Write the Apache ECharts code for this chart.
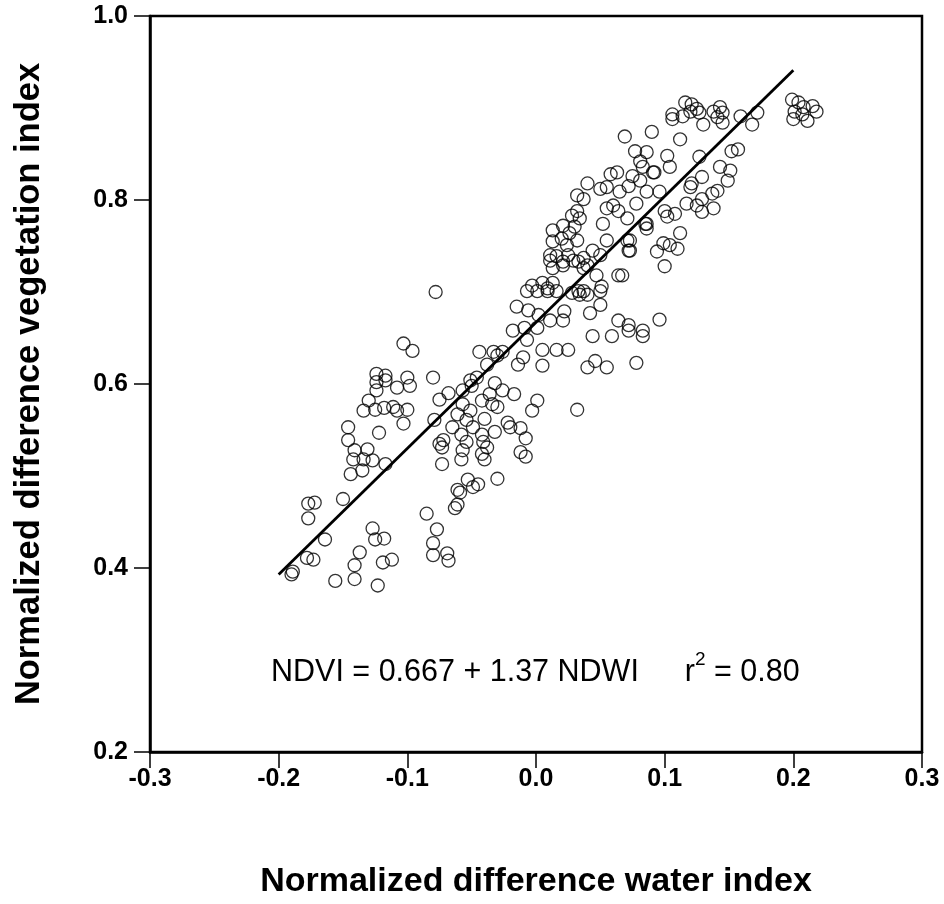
<!DOCTYPE html>
<html>
<head>
<meta charset="utf-8">
<script src="https://cdn.jsdelivr.net/npm/echarts@6/dist/echarts.min.js"></script>
<style>html,body{margin:0;padding:0;background:#fff;overflow:hidden;}#chart{width:944px;height:904px;}</style>
</head>
<body>
<div id="chart"></div>
<script>
// NDWI (x) values of observations
var ndwi = [
-0.103,-0.096,-0.124,-0.117,-0.100,-0.080,-0.124,-0.117,-0.108,-0.098,
-0.124,-0.130,-0.134,-0.125,-0.118,-0.111,-0.100,-0.108,-0.103,-0.075,
-0.079,-0.146,-0.122,-0.146,-0.141,-0.131,-0.142,-0.134,-0.127,-0.117,
-0.144,-0.135,-0.075,-0.073,-0.150,-0.177,-0.172,-0.177,-0.164,-0.085,
-0.077,-0.080,-0.080,-0.069,-0.068,-0.127,-0.125,-0.118,-0.137,-0.141,
-0.112,-0.119,-0.178,-0.173,-0.189,-0.190,-0.156,-0.141,-0.123,-0.063,
-0.061,-0.078,0.011,0.021,0.029,-0.003,0.005,0.009,0.013,0.001,
0.009,0.016,0.028,-0.015,-0.006,0.002,0.022,0.021,0.011,-0.018,
-0.009,0.001,-0.007,-0.044,-0.033,-0.026,-0.030,0.005,0.016,0.025,
-0.014,-0.010,0.005,-0.038,-0.051,-0.046,-0.050,-0.057,-0.068,-0.032,
-0.026,-0.017,-0.036,-0.042,-0.034,-0.057,-0.051,-0.030,0.001,-0.003,
0.032,-0.061,-0.054,-0.040,-0.022,-0.020,-0.012,-0.008,-0.065,-0.058,
-0.049,-0.042,-0.032,-0.072,-0.054,-0.041,-0.038,-0.073,-0.057,-0.012,
-0.008,-0.042,-0.040,-0.058,-0.030,-0.053,-0.045,-0.049,-0.059,-0.061,
0.058,0.063,0.075,0.081,0.091,0.040,0.050,0.032,0.037,0.055,
0.065,0.086,0.078,0.060,0.064,0.055,0.071,0.052,0.086,0.032,
0.028,0.034,0.021,0.013,0.030,0.026,0.020,0.013,0.024,0.032,
0.011,0.016,0.025,0.033,0.013,0.021,0.044,0.055,0.071,0.072,
0.050,0.040,0.037,0.064,0.047,0.037,-0.007,0.037,0.040,0.034,
0.050,0.051,0.042,0.050,0.044,0.059,0.064,0.072,0.072,0.083,
0.083,0.040,0.046,0.055,0.078,0.033,0.116,0.121,0.125,0.120,
0.106,0.106,0.114,0.127,0.138,0.143,0.145,0.141,0.130,0.145,
0.159,0.168,0.172,0.199,0.204,0.208,0.215,0.218,0.201,0.207,
0.200,0.211,0.090,0.069,0.112,0.077,0.086,0.102,0.104,0.081,
0.083,0.092,0.127,0.152,0.157,0.143,0.151,0.149,0.072,0.096,
0.121,0.120,0.129,0.141,0.137,0.129,0.125,0.138,0.129,0.117,
0.108,0.102,0.100,0.085,0.086,0.073,0.073,0.112,0.110,0.104,
0.099,0.094,0.100,0.067,0.096
];
// NDVI (y) values of observations
var ndvi = [
0.644,0.636,0.611,0.609,0.607,0.607,0.602,0.604,0.596,0.598,
0.593,0.582,0.571,0.572,0.574,0.575,0.572,0.571,0.557,0.583,
0.561,0.553,0.547,0.539,0.528,0.529,0.518,0.518,0.517,0.513,
0.502,0.506,0.535,0.513,0.475,0.470,0.471,0.454,0.431,0.459,
0.442,0.427,0.414,0.416,0.408,0.443,0.431,0.432,0.417,0.403,
0.409,0.406,0.411,0.409,0.396,0.393,0.386,0.388,0.381,0.465,
0.485,0.700,0.734,0.733,0.734,0.707,0.710,0.704,0.710,0.701,
0.701,0.701,0.699,0.684,0.680,0.675,0.679,0.669,0.669,0.658,
0.661,0.661,0.648,0.635,0.635,0.635,0.631,0.637,0.637,0.637,
0.621,0.629,0.620,0.621,0.604,0.607,0.598,0.593,0.590,0.601,
0.593,0.589,0.589,0.582,0.578,0.578,0.571,0.575,0.582,0.571,
0.572,0.567,0.561,0.562,0.558,0.553,0.552,0.541,0.553,0.545,
0.553,0.545,0.548,0.539,0.537,0.537,0.531,0.531,0.528,0.526,
0.521,0.524,0.518,0.518,0.497,0.496,0.491,0.488,0.482,0.469,
0.828,0.830,0.826,0.821,0.830,0.818,0.812,0.805,0.801,0.814,
0.809,0.809,0.796,0.794,0.788,0.791,0.780,0.774,0.774,0.788,
0.783,0.780,0.772,0.767,0.771,0.764,0.758,0.755,0.751,0.756,
0.740,0.739,0.740,0.733,0.726,0.729,0.745,0.756,0.756,0.745,
0.740,0.729,0.737,0.718,0.718,0.726,0.701,0.701,0.697,0.697,
0.701,0.706,0.677,0.686,0.652,0.652,0.669,0.664,0.658,0.658,
0.652,0.618,0.625,0.618,0.623,0.701,0.906,0.904,0.899,0.896,
0.893,0.888,0.891,0.895,0.896,0.901,0.895,0.890,0.882,0.884,
0.891,0.882,0.895,0.909,0.906,0.901,0.902,0.896,0.896,0.893,
0.888,0.886,0.874,0.869,0.866,0.853,0.852,0.848,0.836,0.842,
0.836,0.830,0.847,0.853,0.855,0.836,0.832,0.821,0.815,0.809,
0.818,0.814,0.825,0.810,0.807,0.801,0.794,0.791,0.787,0.796,
0.785,0.782,0.788,0.774,0.769,0.756,0.745,0.764,0.747,0.751,
0.753,0.744,0.728,0.718,0.670
];
// Regression line end points
var fitX = [-0.2, 0.2];
var fitY = [0.393, 0.941];
var equationText = 'NDVI = 0.667 + 1.37 NDWI';
var r2Text = '0.80';
var xTicks = [-0.3, -0.2, -0.1, 0.0, 0.1, 0.2, 0.3];
var yTicks = [0.2, 0.4, 0.6, 0.8, 1.0];

var pts = ndwi.map(function (x, i) { return [x, ndvi[i]]; });
var fit = fitX.map(function (x, i) { return [x, fitY[i]]; });

var FONT = '"Liberation Sans", Arial, sans-serif';
var chart = echarts.init(document.getElementById('chart'), null, {renderer: 'canvas', width: 944, height: 904});
chart.setOption({
  animation: false,
  backgroundColor: '#fff',
  grid: {left: 150, top: 16, width: 772, height: 741, show: true, borderColor: '#000', borderWidth: 2.5, containLabel: false},
  xAxis: {
    type: 'value', min: xTicks[0], max: xTicks[xTicks.length - 1], interval: 0.1,
    axisLine: {show: true, onZero: false, lineStyle: {color: '#000', width: 2.5}},
    axisTick: {show: true, inside: false, length: 16, lineStyle: {color: '#000', width: 1.5}},
    splitLine: {show: false},
    axisLabel: {margin: 15, color: '#000', fontFamily: FONT, fontWeight: 'bold', fontSize: 25,
      formatter: function (v) { return (Math.round(v * 10) / 10).toFixed(1); }},
    name: 'Normalized difference water index', nameLocation: 'middle', nameGap: 113,
    nameTextStyle: {color: '#000', fontFamily: FONT, fontWeight: 'bold', fontSize: 34}
  },
  yAxis: {
    type: 'value', min: yTicks[0], max: yTicks[yTicks.length - 1], interval: 0.2,
    axisLine: {show: true, onZero: false, lineStyle: {color: '#000', width: 2.5}},
    axisTick: {show: true, inside: false, length: 16, lineStyle: {color: '#000', width: 1.5}},
    splitLine: {show: false},
    axisLabel: {margin: 22, color: '#000', fontFamily: FONT, fontWeight: 'bold', fontSize: 25,
      formatter: function (v) { return (Math.round(v * 10) / 10).toFixed(1); }},
    name: 'Normalized difference vegetation index', nameLocation: 'middle', nameGap: 103,
    nameTextStyle: {color: '#000', fontFamily: FONT, fontWeight: 'bold', fontSize: 34.5}
  },
  series: [
    {
      type: 'scatter', data: pts, symbol: 'circle', symbolSize: 13,
      itemStyle: {color: 'rgba(0,0,0,0)', borderColor: '#000', borderWidth: 1.3}
    },
    {
      type: 'line', data: fit, showSymbol: false, symbol: 'none',
      lineStyle: {color: '#000', width: 2.8}, z: 3
    }
  ],
  graphic: [
    {type: 'text', left: 271, top: 648, style: {
      text: '{a|' + equationText + '}{sp|}{r|r}{s|2}{e| = ' + r2Text + '}',
      rich: {
        a: {fontSize: 30.5, fontFamily: FONT, fill: '#000', verticalAlign: 'bottom', lineHeight: 40},
        sp: {width: 46, fontSize: 30.5, lineHeight: 40},
        r: {fontSize: 30.5, fontFamily: FONT, fill: '#000', verticalAlign: 'bottom', lineHeight: 40},
        s: {fontSize: 19, fontFamily: FONT, fill: '#000', verticalAlign: 'top', lineHeight: 40, padding: [2, 0, 0, 0]},
        e: {fontSize: 30.5, fontFamily: FONT, fill: '#000', verticalAlign: 'bottom', lineHeight: 40}
      }
    }}
  ]
});
</script>
</body>
</html>
